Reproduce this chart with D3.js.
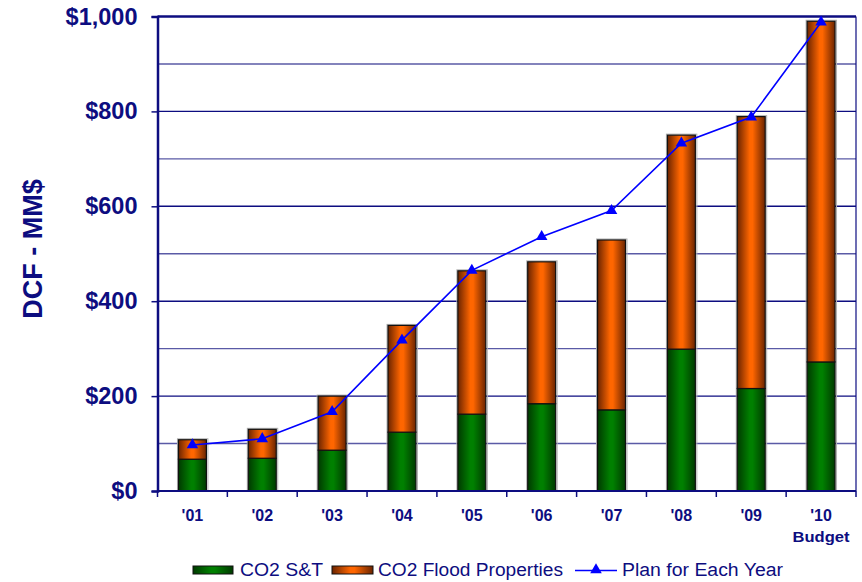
<!DOCTYPE html>
<html>
<head>
<meta charset="utf-8">
<script src="https://cdn.jsdelivr.net/npm/d3@7"></script>
<style>
  html, body { margin: 0; padding: 0; background: #fff; }
  svg { display: block; font-family: "Liberation Sans", Arial, sans-serif; }
</style>
</head>
<body>
<svg id="chart" width="862" height="582"></svg>
<script>
// Discounted cash flow by year, MM$
const years = ["'01", "'02", "'03", "'04", "'05", "'06", "'07", "'08", "'09", "'10"];
const co2ST = [67, 69, 86, 124, 162, 184, 171, 299, 216, 272];
const co2Flood = [41, 61, 114, 225, 302, 299, 358, 451, 573, 718];
const plan = [97, 110, 167, 318, 465, 536, 591, 733, 788, 988];
const yTicks = [0, 200, 400, 600, 800, 1000];
const seriesNames = ["CO2 S&T", "CO2 Flood Properties", "Plan for Each Year"];

const navy = "#0d0d80";
const svg = d3.select("#chart");

const plotL = 157.5, plotR = 856, plotT = 16.5, plotB = 491;

const x = d3.scaleBand().domain(years).range([plotL, plotR]).paddingInner(0.6).paddingOuter(0.3);
const y = d3.scaleLinear().domain([0, 1000]).range([plotB, plotT]);

// gradients for the cylindrical-looking bars
const defs = svg.append("defs");
function grad(id, edge, mid) {
  const g = defs.append("linearGradient").attr("id", id)
    .attr("x1", "0%").attr("x2", "100%").attr("y1", "0%").attr("y2", "0%");
  g.append("stop").attr("offset", "0%").attr("stop-color", edge);
  g.append("stop").attr("offset", "45%").attr("stop-color", mid);
  g.append("stop").attr("offset", "55%").attr("stop-color", mid);
  g.append("stop").attr("offset", "100%").attr("stop-color", edge);
}
grad("gGreen", "#003a00", "#008000");
grad("gOrange", "#6b2400", "#ff6600");

// horizontal gridlines every 100
const grid = d3.range(100, 1001, 100);
svg.append("g").selectAll("line").data(grid).join("line")
  .attr("x1", plotL).attr("x2", plotR)
  .attr("y1", d => y(d)).attr("y2", d => y(d))
  .attr("stroke", d => d % 200 === 0 ? navy : "#5a5aa6")
  .attr("stroke-width", d => d === 1000 ? 2.5 : 1.4);

// right border
svg.append("line").attr("x1", plotR).attr("x2", plotR).attr("y1", plotT).attr("y2", plotB)
  .attr("stroke", navy).attr("stroke-width", 1.2);

// stacked bars
const stack = years.map((yr, i) => ({ yr, a: co2ST[i], b: co2Flood[i] }));
const bars = svg.append("g");
stack.forEach(d => {
  const bx = x(d.yr), bw = x.bandwidth();
  // faint shadow edge
  bars.append("rect").attr("x", bx - 1).attr("y", y(d.a + d.b) - 1)
    .attr("width", bw + 2.5).attr("height", y(0) - y(d.a + d.b) + 1)
    .attr("fill", "none").attr("stroke", "#b0b0b0").attr("stroke-width", 1);
  bars.append("rect").attr("x", bx).attr("y", y(d.a))
    .attr("width", bw).attr("height", y(0) - y(d.a))
    .attr("fill", "url(#gGreen)").attr("stroke", "#111").attr("stroke-width", 1.2);
  bars.append("rect").attr("x", bx).attr("y", y(d.a + d.b))
    .attr("width", bw).attr("height", y(d.a) - y(d.a + d.b))
    .attr("fill", "url(#gOrange)").attr("stroke", "#111").attr("stroke-width", 1.2);
});

// plan line with triangle markers
const cx = d => x(d) + x.bandwidth() / 2;
const line = d3.line().x((d, i) => cx(years[i])).y(d => y(d));
svg.append("path").datum(plan).attr("d", line)
  .attr("fill", "none").attr("stroke", "#0000ff").attr("stroke-width", 1.6);
const tri = d3.symbol().type(d3.symbolTriangle).size(58);
svg.append("g").selectAll("path").data(plan).join("path")
  .attr("d", tri)
  .attr("transform", (d, i) => `translate(${cx(years[i])},${y(d)})`)
  .attr("fill", "#0000ff");

// y axis
const yAxis = d3.axisLeft(y).tickValues(yTicks).tickFormat(d3.format("$,")).tickSize(6).tickPadding(14);
const yg = svg.append("g").attr("transform", `translate(${plotL},0)`).call(yAxis);
yg.select(".domain").attr("stroke", navy).attr("stroke-width", 2.5);
yg.selectAll(".tick line").attr("stroke", navy).attr("stroke-width", 1.5);
yg.selectAll(".tick text").attr("fill", navy).attr("font-size", 23.5).attr("font-weight", "bold")
  .attr("font-family", "'Liberation Sans', Arial, sans-serif");

// x axis with ticks at category boundaries
const xg = svg.append("g");
xg.append("line").attr("x1", plotL).attr("x2", plotR).attr("y1", plotB).attr("y2", plotB)
  .attr("stroke", navy).attr("stroke-width", 2);
const bounds = years.map(d => x(d) - x.step() * 0.3).concat([plotR]);
xg.selectAll("line.tk").data(bounds).join("line").attr("class", "tk")
  .attr("x1", d => d).attr("x2", d => d).attr("y1", plotB).attr("y2", plotB + 6)
  .attr("stroke", navy).attr("stroke-width", 1.5);
xg.selectAll("text").data(years).join("text")
  .attr("x", d => cx(d)).attr("y", 521)
  .attr("text-anchor", "middle").attr("fill", navy)
  .attr("font-size", 16).attr("font-weight", "bold").text(d => d);
svg.append("text").attr("x", cx(years[9])).attr("y", 542)
  .attr("text-anchor", "middle").attr("fill", navy)
  .attr("font-size", 14).attr("font-weight", "bold")
  .attr("textLength", 57).attr("lengthAdjust", "spacingAndGlyphs").text("Budget");

// y axis title
svg.append("text")
  .attr("transform", "translate(42,249) rotate(-90)")
  .attr("text-anchor", "middle").attr("fill", navy)
  .attr("font-size", 27).attr("font-weight", "bold").text("DCF - MM$");

// legend
const lg = svg.append("g").attr("font-size", 18).attr("fill", navy);
lg.append("rect").attr("x", 193).attr("y", 566).attr("width", 40).attr("height", 8)
  .attr("fill", "url(#gGreen)").attr("stroke", "#111");
lg.append("text").attr("x", 240).attr("y", 576)
  .attr("textLength", 83).attr("lengthAdjust", "spacingAndGlyphs").text(seriesNames[0]);
lg.append("rect").attr("x", 332).attr("y", 566).attr("width", 41).attr("height", 8)
  .attr("fill", "url(#gOrange)").attr("stroke", "#111");
lg.append("text").attr("x", 378).attr("y", 576)
  .attr("textLength", 185).attr("lengthAdjust", "spacingAndGlyphs").text(seriesNames[1]);
lg.append("line").attr("x1", 575).attr("x2", 617).attr("y1", 570.5).attr("y2", 570.5)
  .attr("stroke", "#0000ff").attr("stroke-width", 1.6);
lg.append("path").attr("d", tri).attr("transform", "translate(596,570)").attr("fill", "#0000ff");
lg.append("text").attr("x", 622).attr("y", 576)
  .attr("textLength", 161).attr("lengthAdjust", "spacingAndGlyphs").text(seriesNames[2]);
</script>
</body>
</html>
